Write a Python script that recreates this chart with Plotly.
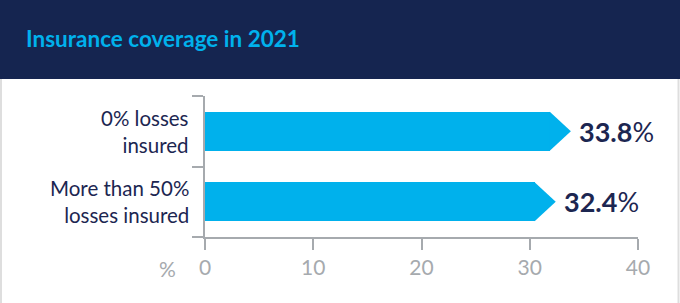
import plotly.graph_objects as go

# ---- data ----
categories = ["0% losses<br>insured", "More than 50%<br>losses insured"]
values = [33.8, 32.4]
x_ticks = [0, 10, 20, 30, 40]
title_text = "Insurance coverage in 2021"
unit_label = "%"

# ---- styling ----
W, H = 680, 303
ML, MR, MT, MB = 205, 42, 96, 66
PW, PH = W - ML - MR, H - MT - MB
NAVY = "#152550"
CYAN = "#00b1ec"
GRAY = "#a6aaae"
TEXT = "#1c2651"
FONT = "Lato, 'Open Sans', sans-serif"
ARROW = 1.9
HALF = 0.275


def px_x(px):
    return (px - ML) / PW


def px_y(py):
    return (H - MB - py) / PH


ys = list(range(len(categories)))

fig = go.Figure()
fig.add_trace(go.Bar(
    x=[v - ARROW for v in values], y=ys, orientation="h", width=2 * HALF,
    marker=dict(color=CYAN, line=dict(width=0)), hoverinfo="skip",
))

shapes = []
for i, v in zip(ys, values):
    shapes.append(dict(
        type="path", xref="x", yref="y",
        path=f"M {v-ARROW-0.05},{i-HALF} L {v},{i} L {v-ARROW-0.05},{i+HALF} Z",
        fillcolor=CYAN, line=dict(width=0), layer="above",
    ))

# header band
shapes.append(dict(type="rect", xref="paper", yref="paper",
                   x0=px_x(-5), x1=px_x(W + 5), y0=px_y(79), y1=px_y(-5),
                   fillcolor=NAVY, line=dict(width=0), layer="below"))
# side borders
for bx in (1, 678.5):
    shapes.append(dict(type="line", xref="paper", yref="paper",
                       x0=px_x(bx), x1=px_x(bx), y0=px_y(79), y1=px_y(H + 5),
                       line=dict(color="#dedede", width=2)))

annotations = [dict(
    text=f"<b>{title_text}</b>", xref="paper", yref="paper",
    x=px_x(24), y=px_y(38), xanchor="left", yanchor="middle", showarrow=False,
    font=dict(family=FONT, size=22.5, color=CYAN),
)]

for i, cat in zip(ys, categories):
    annotations.append(dict(
        text=cat, xref="paper", yref="y", x=px_x(191), y=i,
        xanchor="right", yanchor="middle", align="right", showarrow=False,
        font=dict(family=FONT, size=20.5, color=TEXT),
    ))

for i, v in zip(ys, values):
    annotations.append(dict(
        text=f"<b>{v:.1f}</b>%", xref="x", yref="y", x=v, y=i, xshift=6,
        xanchor="left", yanchor="middle", showarrow=False,
        font=dict(family=FONT, size=27, color=TEXT),
    ))

annotations.append(dict(
    text=unit_label, xref="paper", yref="paper", x=px_x(167), y=px_y(268),
    xanchor="center", yanchor="middle", showarrow=False,
    font=dict(family=FONT, size=21, color=GRAY),
))

fig.update_layout(
    width=W, height=H,
    margin=dict(l=ML, r=MR, t=MT, b=MB, pad=0),
    paper_bgcolor="white", plot_bgcolor="white",
    showlegend=False,
    shapes=shapes, annotations=annotations,
    xaxis=dict(
        range=[0, 40], tickvals=x_ticks, ticktext=[str(t) for t in x_ticks],
        showgrid=False, zeroline=False, showline=True, linecolor=GRAY, linewidth=2,
        ticks="outside", ticklen=11, tickwidth=2, tickcolor=GRAY,
        tickfont=dict(family=FONT, size=21, color=GRAY),
        fixedrange=True,
    ),
    yaxis=dict(
        range=[len(categories) - 0.5, -0.5],
        tickvals=[k - 0.5 for k in range(len(categories) + 1)],
        showticklabels=False,
        showgrid=False, zeroline=False, showline=True, linecolor=GRAY, linewidth=2,
        ticks="outside", ticklen=11, tickwidth=2, tickcolor=GRAY,
        fixedrange=True,
    ),
    bargap=0,
)

fig.write_html("out.html", config=dict(displayModeBar=False),
               post_script="document.body.style.margin='0px';")
